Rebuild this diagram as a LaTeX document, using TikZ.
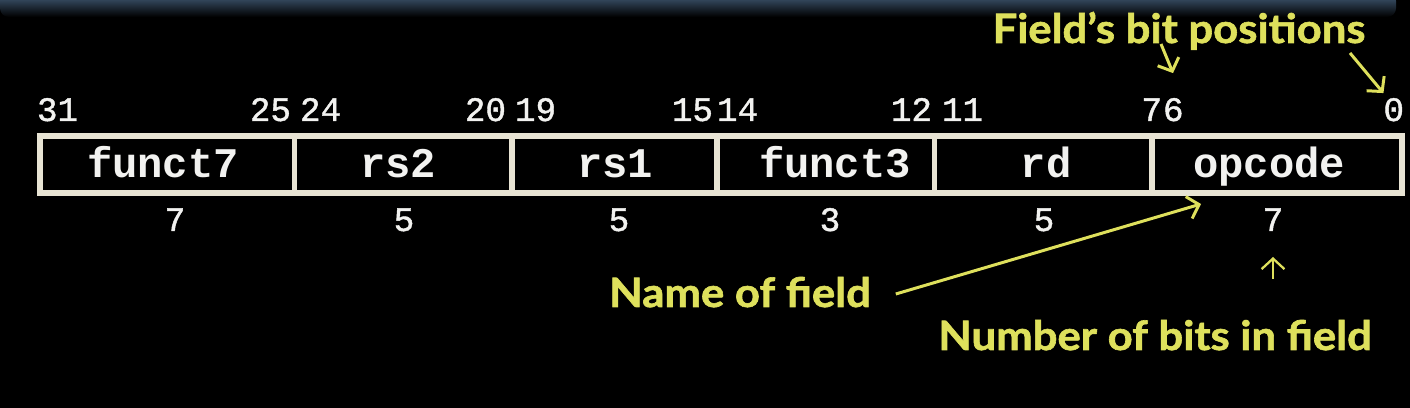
\documentclass[tikz,border=0pt]{standalone}
\usepackage{fontspec}
\setmonofont{Liberation Mono}
\newfontfamily\bitfont[FakeBold=1.2]{Liberation Mono}
\newfontfamily\notefont[FakeStretch=1.08, FakeBold=1.5]{Lato}
\usetikzlibrary{arrows.meta,positioning}
\definecolor{noteyellow}{RGB}{222,224,92}
\definecolor{framebeige}{RGB}{232,228,212}
\definecolor{chalk}{RGB}{242,242,240}
\definecolor{barblue}{RGB}{72,100,130}

\begin{document}
\begin{tikzpicture}[
    x=0.02cm, y=-0.02cm,
    every node/.style={inner sep=0pt, outer sep=0pt},
    frame/.style={draw=framebeige, line width=3.8pt},
    divider/.style={draw=framebeige, line width=2.9pt},
    fieldname/.style={text=chalk, anchor=base, font=\ttfamily\bfseries\fontsize{24}{26}\selectfont},
    bitnum/.style={text=chalk, font=\bitfont\fontsize{19.5}{21}\selectfont},
    note/.style={text=noteyellow, anchor=base, font=\notefont\bfseries\fontsize{23}{25}\selectfont},
    callarrow/.style={draw=noteyellow, line width=1.7pt, -{Straight Barb[length=6pt, width=13pt]}}
]
\useasboundingbox (0,0) rectangle (1410,408);
% background and title bar
\fill[black] (0,0) rectangle (1410,408);
\shade[top color=barblue, bottom color=black, rounded corners=5] (0,-8) rectangle (1396,17);

% instruction word
\draw[frame] (40,136) rectangle (1402,193);
\foreach \x in {294.5,512,717,934.5,1152}
    \draw[divider] (\x,136) -- (\x,193);

% fields: name / centre / bits / its centre / high bit / its left / low bit / its right
\foreach \name/\cx/\bits/\sx/\hi/\hx/\lo/\lx in {funct7/163/7/175/31/37/25/291,
                                         rs2/398/5/404/24/300/20/506,
                                         rs1/615/5/619/19/515/15/713,
                                         funct3/835/3/830/14/717/12/932,
                                         rd/1046/5/1044/11/942/7/1162,
                                         opcode/1269/7/1273/6/1163/0/1404}{
    \node[fieldname] (f-\name) at (\cx,178) {\name};
    \node[bitnum, anchor=base west] (hi-\name) at (\hx,121) {\hi};
    \node[bitnum, anchor=base east] (lo-\name) at (\lx,121) {\lo};
    \node[bitnum, anchor=base] (sz-\name) at (\sx,231) {\bits};
}

% notes
\node[note] (posnote) at (1179,43) {Field’s bit positions};
\node[note] (namenote) at (740,307) {Name of field};
\node[note] (sizenote) at (1155,350) {Number of bits in field};
\coordinate (bitsrc) at (1161,44);
\coordinate (zerosrc) at (1350,53);

\draw[callarrow] (bitsrc) -- ([shift={(10,-25)}]hi-opcode.north west);
\draw[callarrow] (zerosrc) -- ([shift={(0,-5)}]lo-opcode.north west);
\draw[callarrow] ([shift={(25,-13)}]namenote.base east) -- ([shift={(-68,26)}]f-opcode.base);
\draw[callarrow, line width=1.3pt] ([shift={(0,-41)}]sizenote.north -| sz-opcode) -- ([shift={(0,26)}]sz-opcode.south);
\end{tikzpicture}
\end{document}
